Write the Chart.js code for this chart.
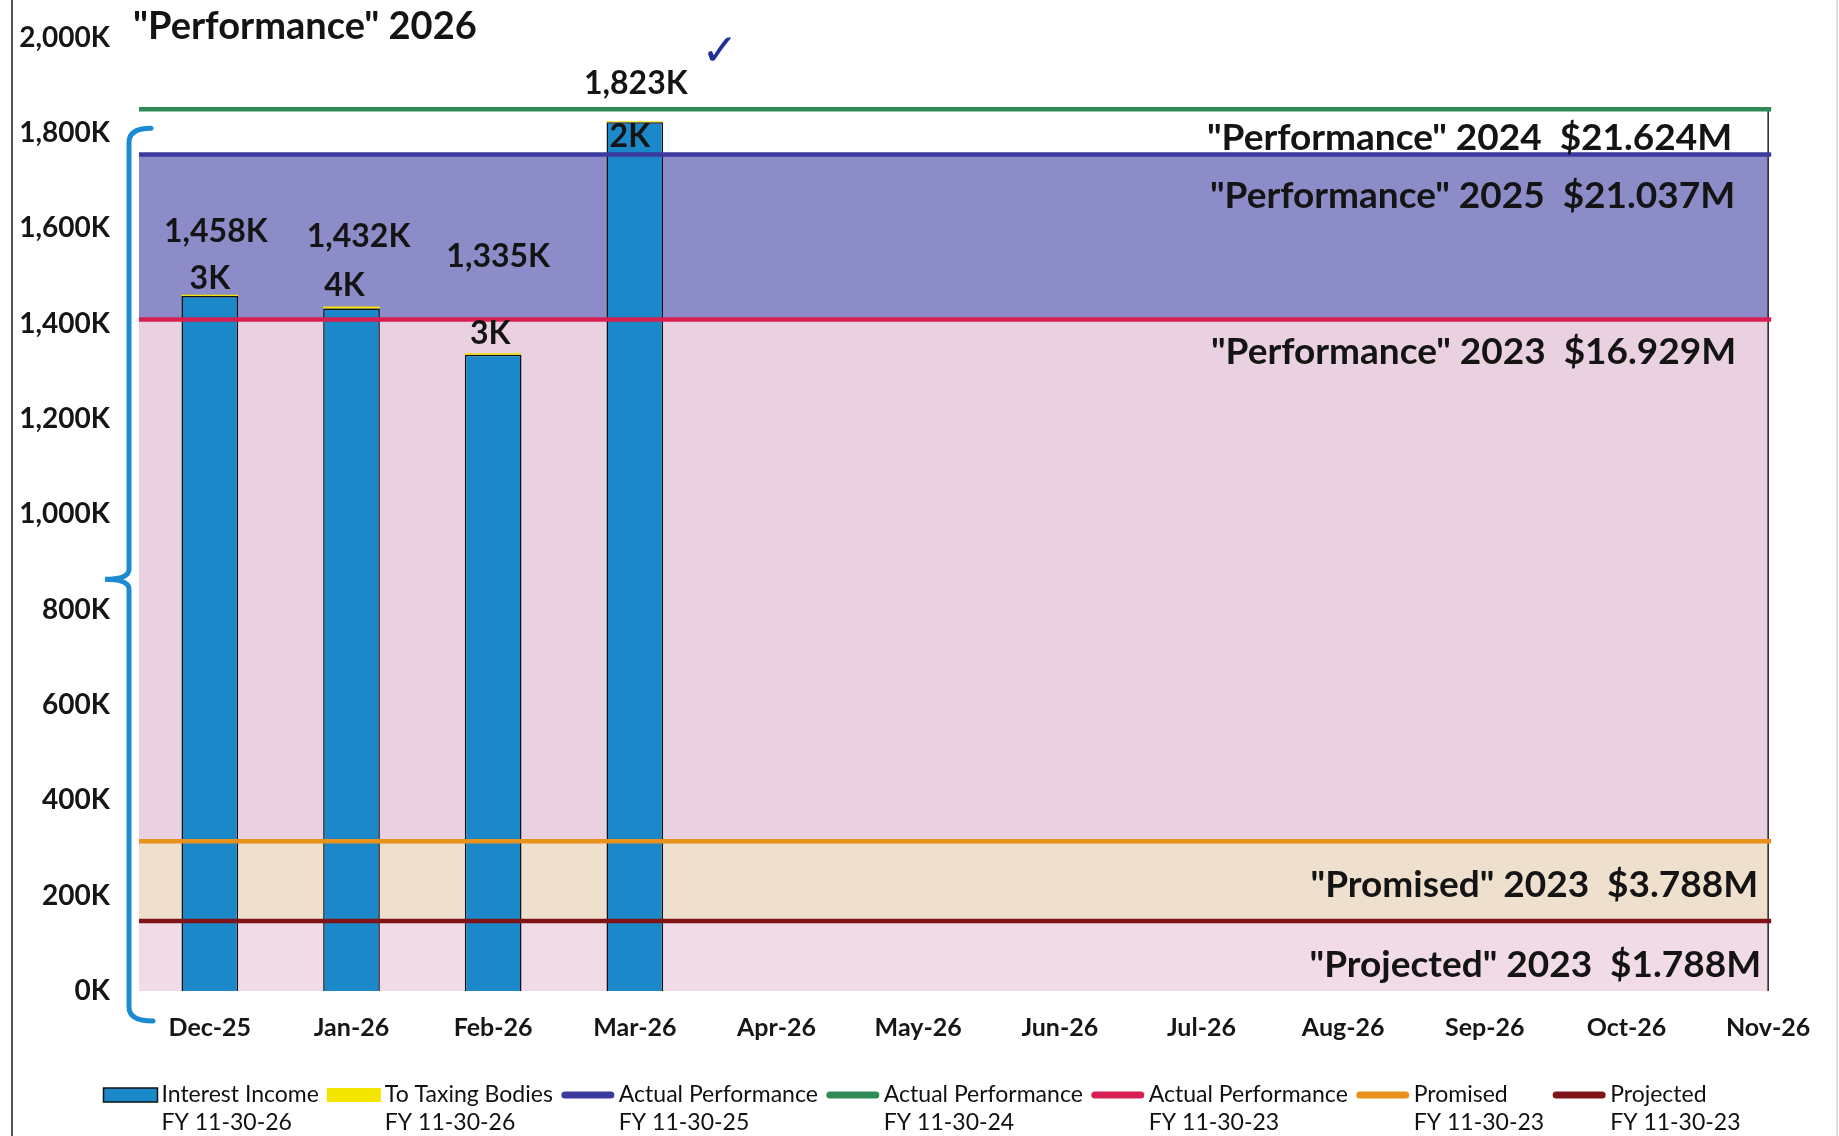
<!DOCTYPE html>
<html>
<head>
<meta charset="utf-8">
<script src="https://cdn.jsdelivr.net/npm/chart.js@4.4.1/dist/chart.umd.min.js"></script>
<style>
  html, body { margin: 0; padding: 0; background: #fff; }
  #wrap { width: 1839px; height: 1136px; }
</style>
</head>
<body>
<div id="wrap"><canvas id="myChart" width="1839" height="1136"></canvas></div>
<script>
/* Data, all values in thousands of dollars */
const months = ["Dec-25", "Jan-26", "Feb-26", "Mar-26", "Apr-26", "May-26", "Jun-26", "Jul-26", "Aug-26", "Sep-26", "Oct-26", "Nov-26"];
const interestIncome = [1458, 1432, 1335, 1823];
const toTaxingBodies = [3, 4, 3, 2];

// reference lines: FY25, FY24, FY23 actual, FY23 promised, FY23 projected
const lineNames = [
  ["Actual Performance", "FY 11-30-25"],
  ["Actual Performance", "FY 11-30-24"],
  ["Actual Performance", "FY 11-30-23"],
  ["Promised", "FY 11-30-23"],
  ["Projected", "FY 11-30-23"]
];
const lineValues = [1755, 1850, 1409, 314, 147];

// texts written inside the bands, and which line they sit under
const bandTexts = ['"Performance" 2024  $21.624M', '"Performance" 2025  $21.037M', '"Performance" 2023  $16.929M', '"Promised" 2023  $3.788M', '"Projected" 2023  $1.788M'];
const bandTextLine = [1, 0, 2, 3, 4];

/* Styles */
const barColors = ["#1b88ca", "#f3e500"];
const lineColors = ["#3b3a9e", "#2f8a58", "#d81f52", "#e8921c", "#7e1418"];
// band fill under each line, down to the next lower line
const bandColors = ["#8c8cc9", null, "#e9d1e2", "#efdfcd", "#f0dbe7"];
const bandTextOffset = [[-36, 29], [-33, 41], [-32, 33], [-10, 44], [-7, 44]];
const bigLabelOffset = [[6, -63], [7, -70], [5, -97], [1, -38]];
const smallLabelOffset = [[0, -16], [-7, -21], [-3, -20], [-5, 15]];

Chart.defaults.font.family = "Lato, 'Open Sans', sans-serif";
Chart.defaults.color = "#161616";

const fmtK = v => v.toLocaleString("en-US") + "K";

/* Bands and lines, behind / over the bars */
const bands = {
  id: "bands",
  beforeDatasetsDraw(chart) {
    const ctx = chart.ctx, y = chart.scales.y, area = chart.chartArea;
    const lastX = chart.scales.x.getPixelForValue(months.length - 1);
    const sorted = lineValues.map((v, i) => i).sort((a, b) => lineValues[b] - lineValues[a]);
    ctx.save();
    sorted.forEach((li, k) => {
      if (!bandColors[li]) return;
      const lower = k + 1 < sorted.length ? lineValues[sorted[k + 1]] : 0;
      const y1 = y.getPixelForValue(lineValues[li]), y2 = y.getPixelForValue(lower);
      ctx.fillStyle = bandColors[li];
      ctx.fillRect(area.left, y1, lastX - area.left, y2 - y1);
    });
    ctx.strokeStyle = "#222";
    ctx.lineWidth = 1.5;
    ctx.beginPath();
    ctx.moveTo(lastX, y.getPixelForValue(Math.max(...lineValues)));
    ctx.lineTo(lastX, area.bottom);
    ctx.stroke();
    ctx.restore();
  },
  afterDatasetsDraw(chart) {
    const ctx = chart.ctx, y = chart.scales.y, area = chart.chartArea;
    const lastX = chart.scales.x.getPixelForValue(months.length - 1);
    ctx.save();
    ctx.lineWidth = 4.5;
    lineValues.forEach((v, i) => {
      const py = y.getPixelForValue(v);
      ctx.strokeStyle = lineColors[i];
      ctx.beginPath();
      ctx.moveTo(area.left, py);
      ctx.lineTo(lastX + 3, py);
      ctx.stroke();
    });
    ctx.restore();
  }
};

/* Extra drawing: title, band texts, value labels, bracket, legend */
const decor = {
  id: "decor",
  beforeDraw(chart) {
    const ctx = chart.ctx;
    ctx.save();
    ctx.fillStyle = "#fff";
    ctx.fillRect(0, 0, chart.width, chart.height);
    ctx.strokeStyle = "#555";
    ctx.lineWidth = 2;
    ctx.beginPath();
    ctx.moveTo(12, 0);
    ctx.lineTo(12, chart.height);
    ctx.stroke();
    ctx.strokeStyle = "#ddd";
    ctx.beginPath();
    ctx.moveTo(chart.width - 2, 0);
    ctx.lineTo(chart.width - 2, chart.height);
    ctx.stroke();
    ctx.restore();
  },
  afterDraw(chart) {
    const ctx = chart.ctx;
    const x = chart.scales.x, y = chart.scales.y, area = chart.chartArea;
    const lastX = x.getPixelForValue(months.length - 1);
    ctx.save();

    // band texts
    ctx.font = "bold 37px Lato";
    ctx.fillStyle = "#141414";
    ctx.textAlign = "right";
    ctx.textBaseline = "middle";
    bandTexts.forEach((t, i) => {
      const ly = y.getPixelForValue(lineValues[bandTextLine[i]]);
      ctx.fillText(t, lastX + bandTextOffset[i][0], ly + bandTextOffset[i][1]);
    });

    // value labels over the bars
    ctx.textAlign = "center";
    ctx.font = "bold 32px Lato";
    interestIncome.forEach((v, i) => {
      const bx = x.getPixelForValue(i);
      const top = y.getPixelForValue(v + toTaxingBodies[i]);
      ctx.fillText(fmtK(v), bx + bigLabelOffset[i][0], top + bigLabelOffset[i][1]);
      ctx.fillText(fmtK(toTaxingBodies[i]), bx + smallLabelOffset[i][0], top + smallLabelOffset[i][1]);
    });

    // check mark
    ctx.fillStyle = "#1f2f9c";
    ctx.font = "44px 'DejaVu Sans'";
    ctx.fillText("\u2713", x.getPixelForValue(3) + 85, y.getPixelForValue(2000) + 16);

    // title
    ctx.fillStyle = "#141414";
    ctx.textAlign = "left";
    ctx.font = "bold 38px Lato";
    ctx.fillText('"Performance" 2026', area.left - 6, y.getPixelForValue(2000) - 11);

    // blue bracket
    const bx = area.left - 10;
    const top = y.getPixelForValue(1810), mid = y.getPixelForValue(864), bot = area.bottom + 30;
    ctx.strokeStyle = "#1a8bd2";
    ctx.lineWidth = 5;
    ctx.lineCap = "round";
    ctx.beginPath();
    ctx.moveTo(bx + 22, top);
    ctx.quadraticCurveTo(bx, top, bx, top + 14);
    ctx.lineTo(bx, mid - 10);
    ctx.quadraticCurveTo(bx, mid, bx - 24, mid);
    ctx.quadraticCurveTo(bx, mid, bx, mid + 10);
    ctx.lineTo(bx, bot - 14);
    ctx.quadraticCurveTo(bx, bot, bx + 24, bot);
    ctx.stroke();

    // legend, two text lines per item
    const items = [
      { text: ["Interest Income", "FY 11-30-26"], color: barColors[0], box: true },
      { text: ["To Taxing Bodies", "FY 11-30-26"], color: barColors[1], box: true }
    ];
    lineNames.forEach((n, i) => items.push({ text: n, color: lineColors[i], box: false }));
    ctx.font = "23px Lato";
    ctx.textAlign = "left";
    const boxW = 54, gap = 4, itemGap = 8;
    items.forEach(it => { it.w = boxW + gap + Math.max(...it.text.map(t => ctx.measureText(t).width)); });
    const total = items.reduce((s, it) => s + it.w, 0) + itemGap * (items.length - 1);
    let lx = 922 - total / 2;
    const ly1 = area.bottom + 104, ly2 = ly1 + 28;
    items.forEach(it => {
      if (it.box) {
        ctx.fillStyle = it.color;
        ctx.fillRect(lx, ly1 - 7, boxW, 14);
        if (it.color === barColors[0]) {
          ctx.strokeStyle = "#111";
          ctx.lineWidth = 1.5;
          ctx.strokeRect(lx, ly1 - 7, boxW, 14);
        }
      } else {
        ctx.strokeStyle = it.color;
        ctx.lineWidth = 7;
        ctx.lineCap = "round";
        ctx.beginPath();
        ctx.moveTo(lx + 4, ly1);
        ctx.lineTo(lx + boxW - 4, ly1);
        ctx.stroke();
      }
      ctx.fillStyle = "#111";
      ctx.fillText(it.text[0], lx + boxW + gap, ly1);
      ctx.fillText(it.text[1], lx + boxW + gap, ly2);
      lx += it.w + itemGap;
    });
    ctx.restore();
  }
};

new Chart("myChart", {
  type: "bar",
  data: {
    labels: months,
    datasets: [
      {
        label: "Interest Income FY 11-30-26",
        data: interestIncome,
        backgroundColor: barColors[0],
        borderColor: "#111",
        borderWidth: 1.5,
        barPercentage: 0.4,
        categoryPercentage: 1.0
      },
      {
        label: "To Taxing Bodies FY 11-30-26",
        data: toTaxingBodies,
        backgroundColor: barColors[1],
        borderWidth: 0,
        barPercentage: 0.4,
        categoryPercentage: 1.0
      }
    ]
  },
  options: {
    responsive: false,
    animation: false,
    devicePixelRatio: 1,
    layout: { padding: { left: 20, right: 0, top: 21, bottom: 79 } },
    scales: {
      x: {
        stacked: true,
        grid: { display: false },
        border: { display: false },
        ticks: { font: { size: 25, weight: "bold" }, padding: 14, maxRotation: 0, autoSkip: false }
      },
      y: {
        stacked: true,
        min: 0,
        max: 2000,
        grid: { display: false },
        border: { display: false },
        afterFit: s => { s.width = 119; },
        ticks: { stepSize: 200, padding: 21, font: { size: 28, weight: "bold" }, callback: v => fmtK(v) }
      }
    },
    plugins: {
      tooltip: { enabled: false },
      legend: { display: false }
    }
  },
  plugins: [bands, decor]
});
</script>
</body>
</html>
